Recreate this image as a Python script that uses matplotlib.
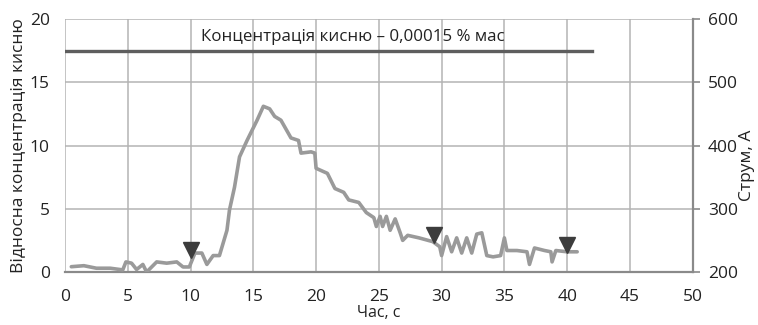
import matplotlib
matplotlib.use('Agg')
import matplotlib.pyplot as plt

# ── Data ─────────────────────────────────────────────────────────────
time_s = [0.5, 1.5, 2.5, 3.6, 4.6, 4.85, 5.3, 5.7, 6.2, 6.5, 7.3, 8.1, 8.9,
          9.4, 9.9, 10.35, 10.9, 11.3, 11.8, 12.3, 12.9, 13.1, 13.5, 13.9,
          14.5, 15.3, 15.8, 16.3, 16.7, 17.2, 18.0, 18.6, 18.8, 19.6, 19.9,
          20.0, 20.9, 21.5, 22.2, 22.6, 23.4, 24.0, 24.6, 24.8, 25.1, 25.3,
          25.6, 25.9, 26.3, 26.7, 26.9, 27.3, 28.2, 29.3, 29.85, 30.0, 30.4,
          30.8, 31.2, 31.6, 32.0, 32.4, 32.8, 33.2, 33.6, 34.1, 34.7, 35.0,
          35.2, 36.0, 36.8, 37.0, 37.4, 38.2, 38.7, 38.8, 39.1, 40.0, 40.8]
rel_conc = [0.42, 0.5, 0.3, 0.3, 0.17, 0.8, 0.7, 0.2, 0.6, 0.0, 0.8, 0.7, 0.8,
            0.4, 0.4, 1.5, 1.5, 0.6, 1.3, 1.3, 3.3, 4.9, 6.7, 9.1,
            10.4, 12.0, 13.1, 12.9, 12.3, 12.0, 10.6, 10.4, 9.4, 9.5, 9.4,
            8.2, 7.8, 6.6, 6.3, 5.7, 5.5, 4.7, 4.3, 3.6, 4.4, 3.6,
            4.4, 3.3, 4.2, 3.1, 2.5, 2.9, 2.7, 2.4, 2.0, 1.3, 2.8,
            1.6, 2.7, 1.5, 2.7, 1.5, 3.0, 3.1, 1.3, 1.2, 1.3, 2.7,
            1.7, 1.7, 1.6, 0.6, 1.9, 1.7, 1.6, 0.8, 1.7, 1.6, 1.6]

marker_t = [10.0, 29.4, 40.0]
marker_current = [235, 258, 242]

ref_level = 17.5
ref_t = [0, 42]
ref_text = 'Концентрація кисню – 0,00015 % мас'

FONT = 'Open Sans'
GRID = '#b4b4b4'
CURVE = '#9a9a9a'
DARK = '#5e5e5e'
TXT = '#222222'

plt.rcParams['font.family'] = [FONT, 'DejaVu Sans']

fig = plt.figure(figsize=(7.58, 3.25), dpi=100)
ax = fig.add_axes([0.0858, 0.163, 0.828, 0.7785])
ax2 = ax.twinx()

ax.plot(time_s, rel_conc, color=CURVE, lw=2.6, solid_joinstyle='round',
        solid_capstyle='round', zorder=3)
ax.plot(ref_t, [ref_level, ref_level], color=DARK, lw=2.4, zorder=3)
ax.text(22.9, 18.6, ref_text, ha='center', va='center', fontsize=12.2, color=TXT)

ax2.plot(marker_t, marker_current, ls='none', marker='v', ms=11,
         color='#3c3c3c', zorder=4)

ax.set_xlim(0, 50)
ax.set_ylim(0, 20)
ax2.set_ylim(200, 600)
ax.set_xticks(range(0, 51, 5))
ax.set_yticks(range(0, 21, 5))
ax2.set_yticks(range(200, 601, 100))

ax.grid(True, color=GRID, lw=1.1)
ax.set_axisbelow(True)

for s in ['top', 'left']:
    ax.spines[s].set_visible(False)
    ax2.spines[s].set_visible(False)
ax.spines['right'].set_visible(False)
ax.spines['bottom'].set_color('#8a8a8a')
ax.spines['bottom'].set_linewidth(1.6)
ax2.spines['bottom'].set_visible(False)
ax2.spines['right'].set_color('#8a8a8a')
ax2.spines['right'].set_linewidth(1.6)

ax.tick_params(axis='x', length=0, pad=12, labelsize=12.5, labelcolor=TXT)
ax.tick_params(axis='y', length=0, pad=11, labelsize=12.5, labelcolor=TXT)
ax2.tick_params(axis='y', length=5, width=1.2, color='#8a8a8a', pad=6,
                labelsize=12.5, labelcolor=TXT)

ax.set_xlabel('Час, с', fontsize=11.5, color=TXT, labelpad=0.5)
ax.set_ylabel('Відносна концентрація кисню', fontsize=12.5, color=TXT, labelpad=2)
fig.text(0.985, 0.49, 'Струм, А', rotation=90, ha='center', va='center',
         fontsize=12.5, color=TXT)

fig.savefig('out.png', dpi=100)
